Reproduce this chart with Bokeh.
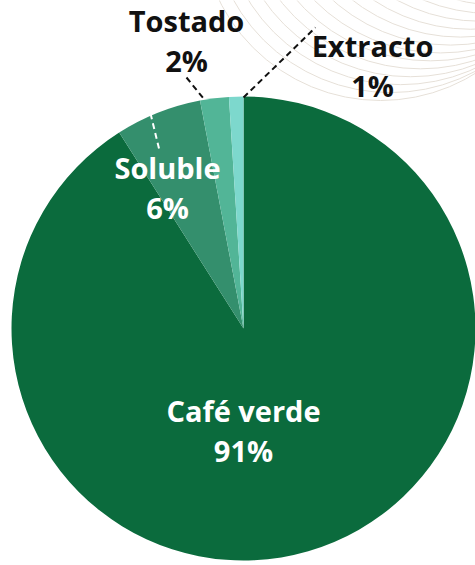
import math
from bokeh.plotting import figure
from bokeh.models import Range1d, ColumnDataSource
from bokeh.core.properties import value
from bokeh.embed import file_html
from bokeh.resources import INLINE

# ---- data ----
categories = ["Café verde", "Soluble", "Tostado", "Extracto"]
shares = [91, 6, 2, 1]
colors = ["#0b6b3d", "#348f6d", "#52b597", "#7dd8cd"]
pct_labels = ["91%", "6%", "2%", "1%"]

W, H = 475, 565
p = figure(width=W, height=H, output_backend="svg", toolbar_location=None,
           x_range=Range1d(0, W), y_range=Range1d(0, H), min_border=0,
           outline_line_color=None, background_fill_color="white",
           border_fill_color="white")
p.axis.visible = False
p.grid.visible = False

def Y(py):
    return H - py

# decorative background arcs (top right)
n_arcs = 13
for i in range(n_arcs):
    t = i / (n_arcs - 1)
    cx = 380 + (500 - 380) * t
    cy = -80 + (-170 + 80) * t
    r = 180 + (175 - 180) * t
    p.arc(x=cx, y=Y(cy), radius=r, start_angle=0, end_angle=2 * math.pi,
          line_color="#e6e0d8", line_width=1)

# pie
cx0, cy0, R = 243, 328, 232
total = sum(shares)
starts, ends = [], []
acc = 0.0
for s in shares:
    a0 = math.pi / 2 - 2 * math.pi * acc / total
    acc += s
    a1 = math.pi / 2 - 2 * math.pi * acc / total
    starts.append(a0)
    ends.append(a1)
src = ColumnDataSource(dict(cat=categories, share=shares, color=colors,
                            start=starts, end=ends))
p.wedge(x=cx0, y=Y(cy0), radius=R, start_angle="start", end_angle="end",
        direction="clock", fill_color="color", line_color=None, source=src)

# leader lines
p.line(x=[186, 203], y=[Y(77), Y(98)], line_color="#111111", line_width=2,
       line_dash="6 4")
p.line(x=[243, 315], y=[Y(97), Y(27)], line_color="#111111", line_width=2,
       line_dash="6 4")
p.line(x=[150, 159], y=[Y(113), Y(150)], line_color="white", line_width=2,
       line_dash="6 4")

# labels
font = value("Open Sans")
lab_x = [243, 167, 186, 372]
lab_y1 = [410, 167, 20, 45]
lab_col = ["white", "white", "#111111", "#111111"]
for i in range(len(categories)):
    p.text(x=[lab_x[i]], y=[Y(lab_y1[i])], text=[categories[i]],
           text_font=font, text_font_style="bold", text_font_size="29px",
           text_color=lab_col[i], text_align="center",
           text_baseline="alphabetic")
    p.text(x=[lab_x[i]], y=[Y(lab_y1[i] + 40)], text=[pct_labels[i]],
           text_font=font, text_font_style="bold", text_font_size="29px",
           text_color=lab_col[i], text_align="center",
           text_baseline="alphabetic")

open("out.html", "w").write(file_html(p, INLINE))
